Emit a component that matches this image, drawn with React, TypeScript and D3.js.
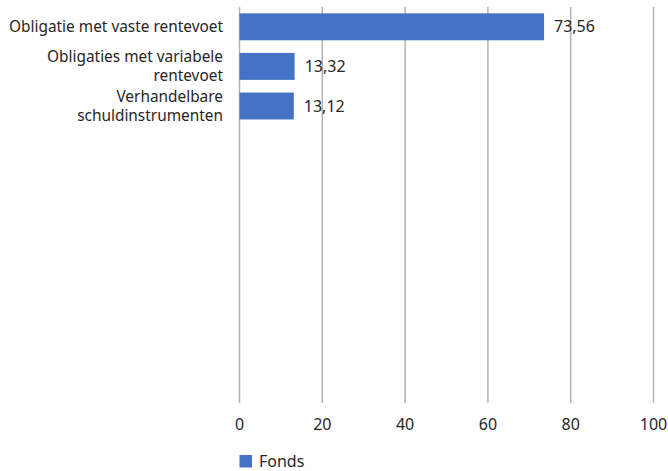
import React from "react";
import * as d3 from "d3";

const categories: string[][] = [
  ["Obligatie met vaste rentevoet"],
  ["Obligaties met variabele", "rentevoet"],
  ["Verhandelbare", "schuldinstrumenten"],
  [""], [""], [""], [""], [""], [""], [""],
];
const values: (number | null)[] = [73.56, 13.32, 13.12, null, null, null, null, null, null, null];
const xTicks: number[] = [0, 20, 40, 60, 80, 100];
const seriesName = "Fonds";

const W = 668, H = 471;
const M = { left: 239.5, right: 14.5, top: 7, bottom: 68 };
const FONT = "'Noto Sans', 'Open Sans', sans-serif";
const TXT = "#262626";
const BLUE = "#4472C4";
const GRID = "#b3b3b3";

export default function App() {
  const x = d3.scaleLinear().domain([0, 100]).range([M.left, W - M.right]);
  const y = d3.scaleBand<number>()
    .domain(d3.range(categories.length))
    .range([M.top, H - M.bottom])
    .paddingInner(0.32).paddingOuter(0.16);
  const fmt = (v: number) => d3.format(".2f")(v).replace(".", ",");
  const yb = H - M.bottom;
  return (
    <svg width={W} height={H} style={{ position: "absolute", left: 0, top: 0, background: "#fff" }} fontFamily={FONT}>
      {xTicks.map((t) => (
        <g key={t}>
          <line x1={x(t)} x2={x(t)} y1={M.top} y2={yb} stroke={GRID} strokeWidth={1.5} />
          <text x={x(t)} y={430} textAnchor="middle" fontSize={16} fill={TXT}>{t}</text>
        </g>
      ))}
      {values.map((v, i) => v == null ? null : (
        <g key={i}>
          <rect x={x(0)} y={y(i)!} width={x(v) - x(0)} height={y.bandwidth()} fill={BLUE} />
          <text x={x(v) + 10} y={y(i)! + y.bandwidth() / 2} dy="0.35em" fontSize={16} fill={TXT}>{fmt(v)}</text>
        </g>
      ))}
      {categories.map((lines, i) => {
        const cy = y(i)! + y.bandwidth() / 2;
        const lh = 19;
        const start = cy - ((lines.length - 1) * lh) / 2;
        return (
          <text key={i} textAnchor="end" fontSize={15.4} fill={TXT}>
            {lines.map((l, j) => (
              <tspan key={j} x={223} y={start + j * lh} dy="0.35em">{l}</tspan>
            ))}
          </text>
        );
      })}
      <rect x={239.5} y={455} width={12.5} height={12.5} fill={BLUE} />
      <text x={259} y={467} fontSize={16} fill={TXT}>{seriesName}</text>
    </svg>
  );
}
